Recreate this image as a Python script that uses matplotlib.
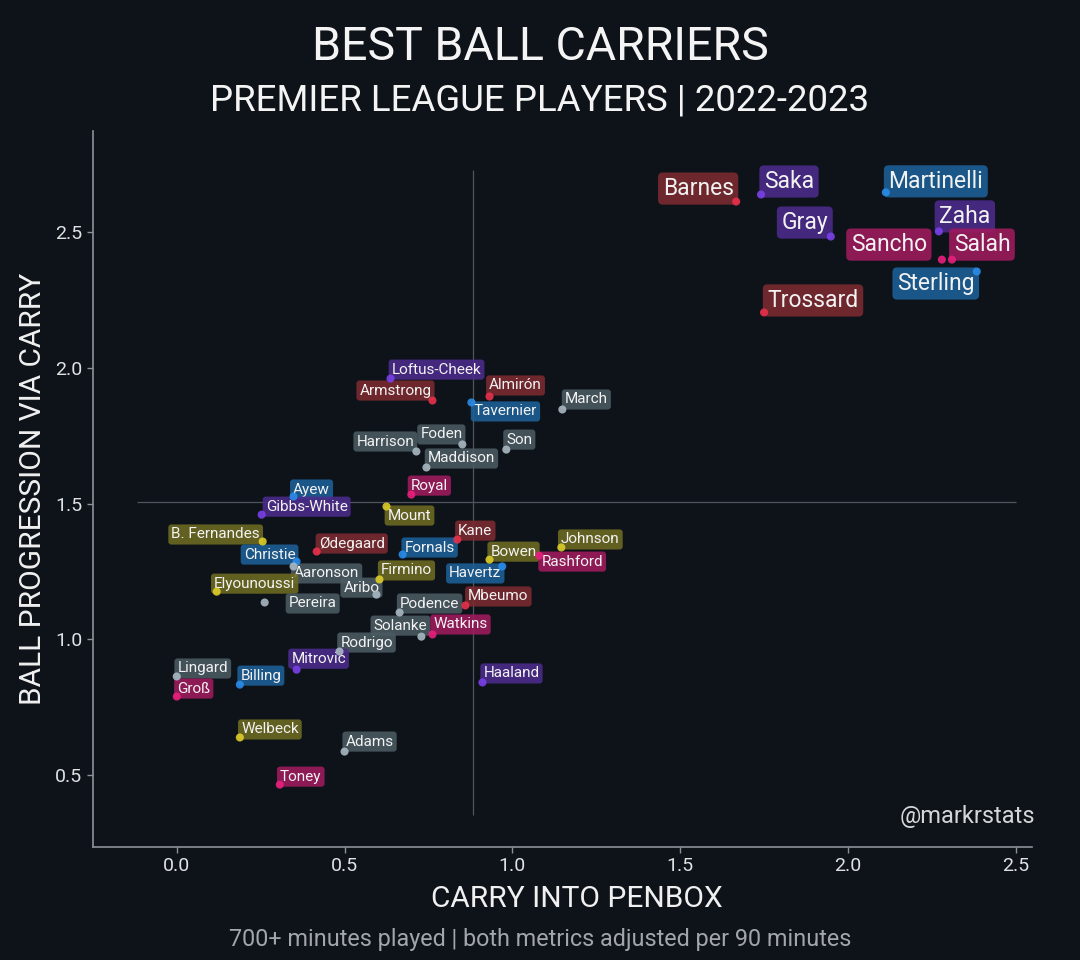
import matplotlib
matplotlib.use('Agg')
import matplotlib.pyplot as plt
import numpy as np

# ---------------------------------------------------------------------------
# data
# ---------------------------------------------------------------------------
players = ['Barnes', 'Saka', 'Martinelli', 'Gray', 'Zaha', 'Sancho', 'Salah', 'Sterling',
           'Trossard', 'Loftus-Cheek', 'Armstrong', 'Almirón', 'Tavernier', 'March',
           'Harrison', 'Foden', 'Son', 'Maddison', 'Royal', 'Ayew', 'Gibbs-White', 'Mount',
           'Kane', 'B. Fernandes', 'Christie', 'Ødegaard', 'Fornals', 'Bowen', 'Johnson',
           'Rashford', 'Aaronson', 'Firmino', 'Havertz', 'Elyounoussi', 'Aribo', 'Pereira',
           'Mbeumo', 'Podence', 'Solanke', 'Watkins', 'Rodrigo', 'Mitrovic', 'Lingard',
           'Billing', 'Groß', 'Haaland', 'Welbeck', 'Adams', 'Toney']

carry_penbox = [1.667, 1.741, 2.113, 1.949, 2.271, 2.280, 2.310, 2.384,
                1.750, 0.637, 0.762, 0.932, 0.878, 1.149,
                0.714, 0.851, 0.982, 0.744, 0.699, 0.348, 0.253, 0.625,
                0.836, 0.256, 0.357, 0.417, 0.673, 0.932, 1.146,
                1.080, 0.348, 0.604, 0.970, 0.119, 0.595, 0.262,
                0.860, 0.664, 0.729, 0.762, 0.485, 0.357, 0.000,
                0.188, 0.000, 0.911, 0.188, 0.500, 0.307]

progression = [2.614, 2.640, 2.648, 2.485, 2.504, 2.400, 2.400, 2.356,
               2.205, 1.961, 1.880, 1.895, 1.873, 1.847,
               1.692, 1.718, 1.699, 1.633, 1.533, 1.526, 1.459, 1.489,
               1.367, 1.360, 1.286, 1.323, 1.312, 1.293, 1.338,
               1.308, 1.268, 1.220, 1.268, 1.175, 1.164, 1.135,
               1.124, 1.098, 1.009, 1.017, 0.954, 0.887, 0.862,
               0.832, 0.788, 0.840, 0.637, 0.585, 0.463]

grupo = ['red', 'purple', 'blue', 'purple', 'purple', 'magenta', 'magenta', 'blue',
         'red', 'purple', 'red', 'red', 'blue', 'gray',
         'gray', 'gray', 'gray', 'gray', 'magenta', 'blue', 'purple', 'olive',
         'red', 'olive', 'blue', 'red', 'blue', 'olive', 'olive',
         'magenta', 'gray', 'olive', 'blue', 'olive', 'gray', 'gray',
         'red', 'gray', 'gray', 'magenta', 'gray', 'purple', 'gray',
         'blue', 'magenta', 'purple', 'olive', 'gray', 'magenta']

media_x = 0.884
media_y = 1.507

# ---------------------------------------------------------------------------
# layout: label centre offset from its dot, in pixels (x right, y up)
# ---------------------------------------------------------------------------
offsets = [(-38, 13), (28, 13), (50, 11), (-26, 14), (26, 15), (-53, 15), (30, 15), (-41, -12),
           (49, 12), (46, 9), (-37, 10), (26, 11), (34, -9), (24, 10),
           (-31, 10), (-21, 10), (13, 10), (35, 9), (18, 9), (18, 7), (45, 8), (23, -9),
           (18, 9), (-47, 7), (-27, 7), (35, 8), (27, 7), (24, 8), (29, 8),
           (33, -6), (33, -7), (27, 9), (-27, -7), (38, 8), (-15, 7), (48, -1),
           (33, 9), (30, 9), (-21, 11), (28, 10), (27, 9), (22, 11), (26, 8),
           (21, 9), (17, 8), (29, 9), (30, 8), (25, 10), (21, 8)]

cor_caixa = {'red': '#7c2a30', 'purple': '#4c2b8c', 'blue': '#1c6098',
             'magenta': '#a01a5e', 'olive': '#6f6b22', 'gray': '#4b5a62'}
cor_ponto = {'red': '#e8304c', 'purple': '#7a40e8', 'blue': '#2a8ce8',
             'magenta': '#e8207c', 'olive': '#dccc2a', 'gray': '#a8b8c2'}

BG = '#0e131a'
plt.rcParams['font.family'] = ['Roboto', 'DejaVu Sans']

fig = plt.figure(figsize=(10.8, 9.6), dpi=100, facecolor=BG)
ax = fig.add_axes([0.086, 0.118, 0.870, 0.746])
ax.set_facecolor(BG)
ax.set_xlim(-0.25, 2.55)
ax.set_ylim(0.234, 2.876)

for s in ['top', 'right']:
    ax.spines[s].set_visible(False)
for s in ['left', 'bottom']:
    ax.spines[s].set_color('#8a9299')
    ax.spines[s].set_linewidth(1.2)

ax.set_xticks([0.0, 0.5, 1.0, 1.5, 2.0, 2.5])
ax.set_yticks([0.5, 1.0, 1.5, 2.0, 2.5])
ax.tick_params(colors='#8a9299', labelcolor='#dfe1e3', labelsize=14, length=4, width=1)

# linhas de media
ax.vlines(media_x, 0.35, 2.73, color='#4e555c', lw=0.9, zorder=1)
ax.hlines(media_y, -0.12, 2.5, color='#4e555c', lw=0.9, zorder=1)

grandes = set(players[:9])
for nome, x, y, g, (dx, dy) in zip(players, carry_penbox, progression, grupo, offsets):
    fs = 16.5 if nome in grandes else 11
    ax.annotate(nome, (x, y), xytext=(dx, dy), textcoords='offset pixels',
                ha='center', va='center', fontsize=fs, color='#f2f2f2', zorder=4,
                bbox=dict(boxstyle='round,pad=0.2', fc=cor_caixa[g], ec='none', alpha=0.88))

ax.scatter(carry_penbox, progression, s=34, c=[cor_ponto[g] for g in grupo],
           edgecolors='none', zorder=5, alpha=0.9)

ax.text(1.003, 0.042, '@markrstats', transform=ax.transAxes, ha='right', va='center',
        fontsize=17, color='#d4d6d8')

ax.set_xlabel('CARRY INTO PENBOX', fontsize=21.5, color='#f0f0f0')
ax.xaxis.set_label_coords(0.515, -0.053)
ax.set_ylabel('BALL PROGRESSION VIA CARRY', fontsize=21.5, color='#f0f0f0', labelpad=6)

fig.text(0.5, 0.951, 'BEST BALL CARRIERS', ha='center', va='center', fontsize=33.5, color='#f4f4f4')
fig.text(0.5, 0.895, 'PREMIER LEAGUE PLAYERS | 2022-2023', ha='center', va='center',
         fontsize=26.4, color='#f4f4f4')
fig.text(0.5, 0.021, '700+ minutes played | both metrics adjusted per 90 minutes',
         ha='center', va='center', fontsize=16.8, color='#a2a6aa')

plt.savefig('out.png', dpi=100, facecolor=BG)
plt.close()
